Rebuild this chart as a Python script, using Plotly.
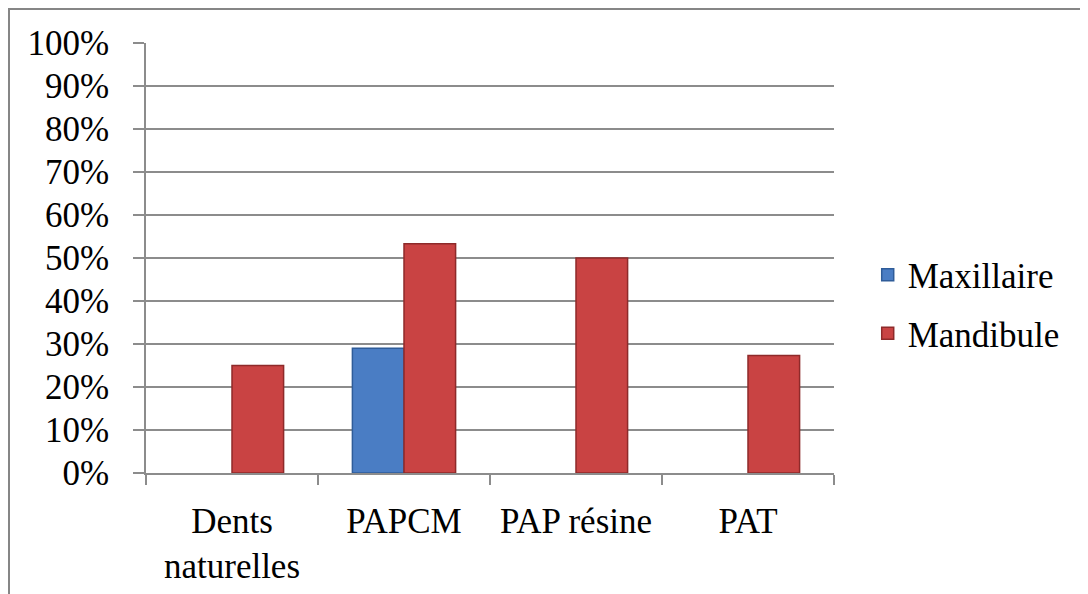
import plotly.graph_objects as go

# Data
categories = ["Dents<br>naturelles", "PAPCM", "PAP résine", "PAT"]
maxillaire = [None, 0.29, None, None]
mandibule = [0.25, 0.533, 0.50, 0.273]
y_ticks = [i / 10 for i in range(11)]

grid = "#8C8C8C"
font = dict(family="Times New Roman, Liberation Serif, Tinos, DejaVu Serif, serif", size=35, color="black")

fig = go.Figure()
fig.add_trace(go.Bar(
    x=categories, y=maxillaire, name="Maxillaire",
    marker=dict(color="#4A7DC4", line=dict(color="#2F5C99", width=1.5)),
    legendgroup="a",
))
fig.add_trace(go.Bar(
    x=categories, y=mandibule, name="Mandibule",
    marker=dict(color="#C94343", line=dict(color="#8E2A2A", width=1.5)),
    legendgroup="b",
))

# page body has an 8px margin, so the figure is offset by 8px
fig.update_layout(
    width=1088, height=594,
    margin=dict(l=138, r=262, t=35, b=129),
    paper_bgcolor="white", plot_bgcolor="white",
    font=font,
    barmode="group", bargap=0.4, bargroupgap=0,
    showlegend=True,
    legend=dict(x=1.049, xanchor="left", y=0.393, yanchor="middle",
                tracegroupgap=10, font=font, bgcolor="rgba(0,0,0,0)"),
)
fig.update_yaxes(
    range=[0, 1], tickvals=y_ticks, tickformat=".0%",
    showgrid=True, gridcolor=grid, gridwidth=1.5,
    showline=True, linecolor=grid, linewidth=1.5,
    ticks="outside", ticklen=11, tickcolor=grid, tickwidth=1.5,
    ticklabelstandoff=17, zeroline=False,
)
fig.update_xaxes(
    showline=True, linecolor=grid, linewidth=1.5,
    ticks="outside", tickson="boundaries", ticklen=10, tickcolor=grid, tickwidth=1.5,
    ticklabelstandoff=16, showgrid=False,
)

# chart area border (extends beyond the right and bottom edges)
fig.add_shape(type="rect", xref="paper", yref="paper",
              x0=(1 - 138) / 688, x1=1.6, y0=-0.6, y1=(464) / 430,
              line=dict(color="#868686", width=2), layer="below")

fig.write_html("out.html")
